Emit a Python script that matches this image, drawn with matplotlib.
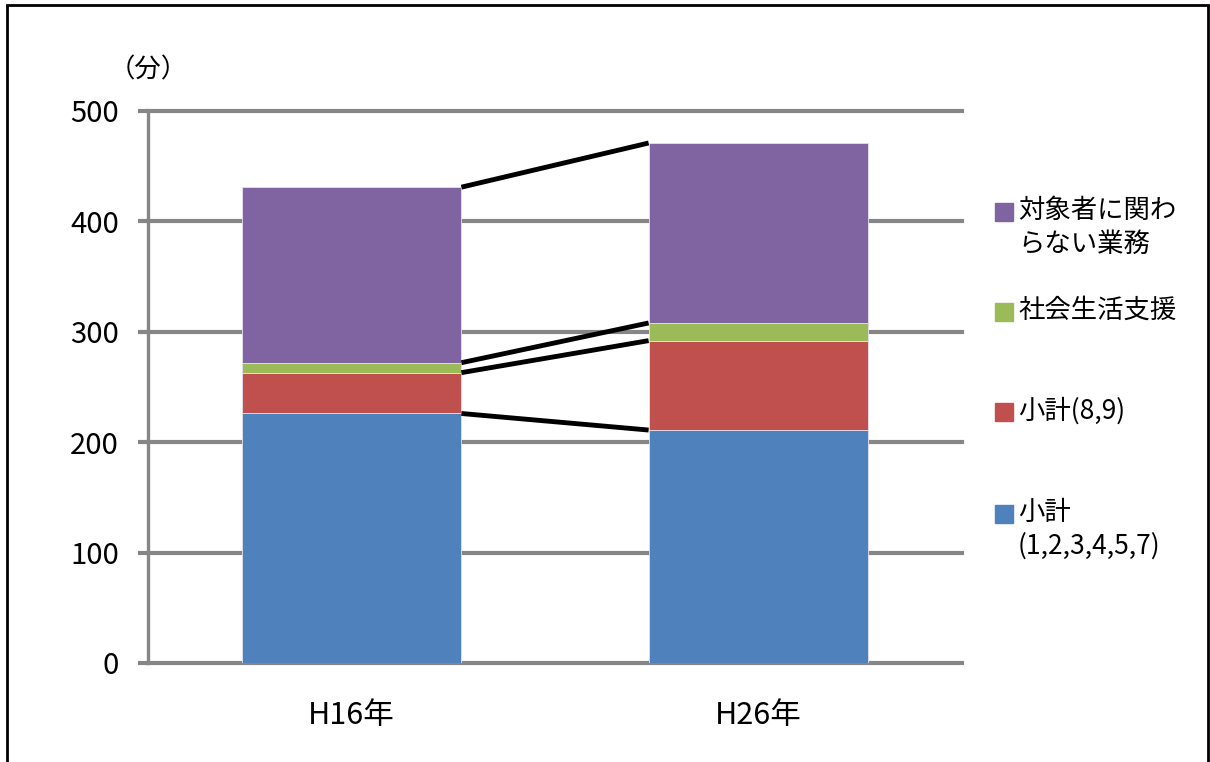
import matplotlib.pyplot as plt
from matplotlib.patches import Rectangle
import numpy as np

plt.rcParams['font.family'] = ['Noto Sans CJK JP', 'DejaVu Sans']

categories = ['H16年', 'H26年']
series_names = ['小計\n(1,2,3,4,5,7)', '小計(8,9)', '社会生活支援', '対象者に関わ\nらない業務']
subtotal_1_7 = [226, 211]
subtotal_8_9 = [37, 81]
social_support = [9, 16]
unrelated_work = [159, 163]
colors = ['#4F81BD', '#C0504D', '#9BBB59', '#8064A2']

values = [subtotal_1_7, subtotal_8_9, social_support, unrelated_work]

fig = plt.figure(figsize=(12.1, 7.62), dpi=100)
ax = fig.add_axes([148 / 1210, 1 - 663 / 762, (962 - 148) / 1210, (663 - 111) / 762])

x = np.arange(len(categories))
width = 0.54
bottom = np.zeros(len(categories))
tops = []
for vals, c in zip(values, colors):
    ax.bar(x, vals, width, bottom=bottom, color=c, edgecolor='#e6e0ee', linewidth=0.6, zorder=3)
    bottom = bottom + np.array(vals)
    tops.append(bottom.copy())

# series lines between the two stacks
for t in tops:
    ax.plot([x[0] + width / 2, x[1] - width / 2], [t[0], t[1]], color='black', lw=3.5,
            solid_capstyle='butt', zorder=4)

ax.set_xlim(-0.5, 1.5)
ax.set_ylim(0, 500)
ax.set_yticks(range(0, 501, 100))
ax.yaxis.grid(True, color='#868686', linewidth=3)
for gl in ax.get_ygridlines():
    gl.set_clip_on(False)
ax.set_axisbelow(True)

for s in ['top', 'right', 'bottom']:
    ax.spines[s].set_visible(False)
ax.spines['left'].set_color('#868686')
ax.spines['left'].set_linewidth(2.4)

ax.tick_params(axis='y', length=7, width=3, color='#868686', pad=14, labelsize=21)
ax.tick_params(axis='x', length=0, pad=27, labelsize=22)
ax.set_xticks(x)
ax.set_xticklabels(categories)

fig.text(148 / 1210, 1 - 70 / 762, '（分）', fontsize=19, ha='center', va='center')

# legend drawn beside the plot, square aligned with first line of each label
legend_y = [514, 412, 312, 212]
for name, c, yp in zip(series_names, colors, legend_y):
    fig.add_artist(Rectangle((995 / 1210, 1 - (yp + 9) / 762), 18 / 1210, 18 / 762,
                             transform=fig.transFigure, color=c))
    fig.text(1018 / 1210, 1 - (yp - 15) / 762, name, fontsize=19, ha='left', va='top',
             linespacing=1.32)

# outer frame
fig.add_artist(Rectangle((7 / 1210, -0.05), (1208 - 7) / 1210, 1.05 - 5 / 762,
                         transform=fig.transFigure, fill=False, edgecolor='black', linewidth=2))

fig.savefig('out.png', dpi=100)
